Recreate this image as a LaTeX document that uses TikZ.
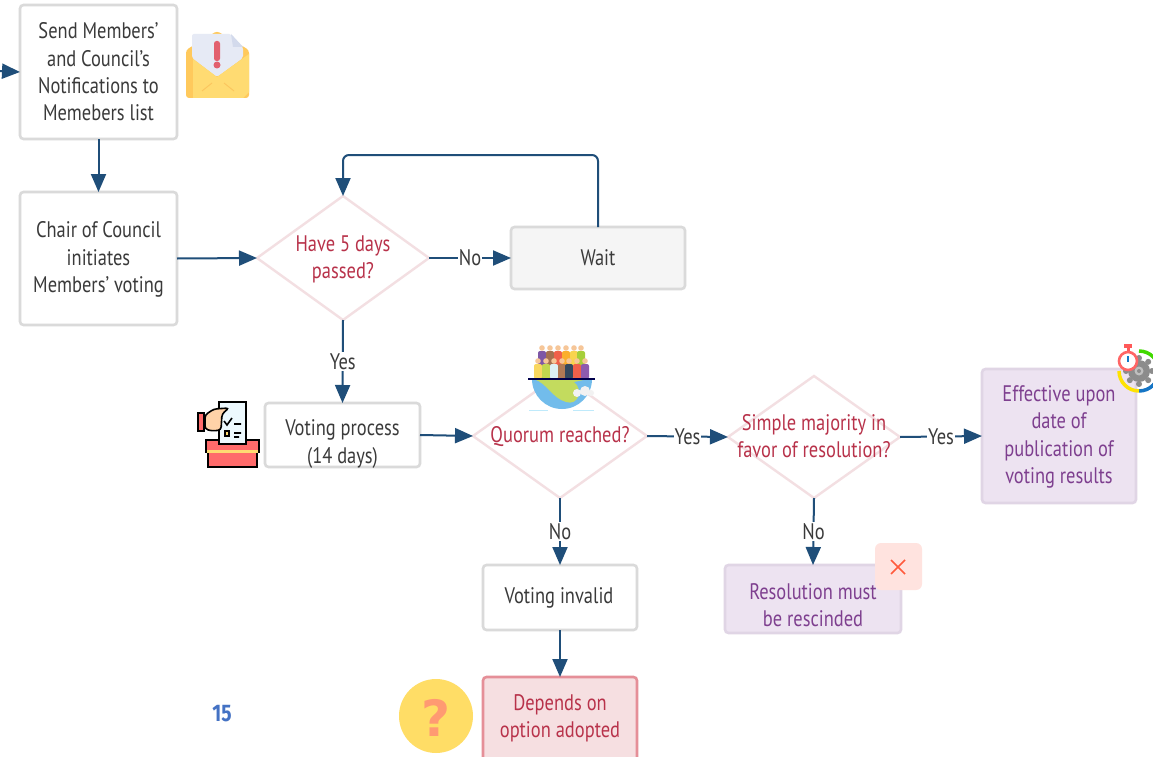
\documentclass[tikz,border=0pt]{standalone}
\usepackage{fontspec}
\setmainfont{PT Sans}[FakeStretch=0.82]
\newfontfamily\numfont{Fira Sans}[FakeStretch=0.8]
\newfontfamily\qfont{DejaVu Sans}
\usetikzlibrary{shapes.geometric,arrows.meta}
\definecolor{conn}{HTML}{1F4E79}
\definecolor{edgegray}{HTML}{DADADA}
\definecolor{txt}{HTML}{3A3A3A}
\definecolor{redtxt}{HTML}{B8324A}
\definecolor{purptxt}{HTML}{7E3F8F}
\definecolor{purpfill}{HTML}{EDE3F1}
\definecolor{purpedge}{HTML}{E0D5E5}
\definecolor{redfill}{HTML}{F6DFE1}
\definecolor{rededge}{HTML}{E58F98}
\definecolor{diaedge}{HTML}{F3DFE2}
\definecolor{envback}{HTML}{FFC95C}
\definecolor{envfront}{HTML}{FFDB72}
\definecolor{envline}{HTML}{FBC65E}
\definecolor{paper}{HTML}{E6EAF5}
\definecolor{paperfold}{HTML}{D3DAEC}
\definecolor{alert}{HTML}{E2606E}
\definecolor{qyellow}{HTML}{FFDD66}
\definecolor{qmark}{HTML}{FF9A72}
\definecolor{pagenum}{HTML}{4472C4}
\definecolor{ballot}{HTML}{FF6B6B}
\definecolor{skin}{HTML}{FFD2A8}
\definecolor{sea}{HTML}{72BCEB}
\definecolor{land}{HTML}{C3DB5E}
\definecolor{tile}{HTML}{FFE3DF}
\definecolor{cross}{HTML}{FF5A3C}
\tikzset{
  x=1pt,y=-1pt,
  every node/.append style={outer sep=0pt},
  boxbase/.style={rectangle,rounded corners=3.5pt,line width=2.6pt,inner sep=0pt},
  plainbox/.style={boxbase,draw=edgegray,fill=white},
  waitbox/.style={boxbase,draw=edgegray,fill=black!4},
  purpbox/.style={boxbase,draw=purpedge,fill=purpfill},
  redbox/.style={boxbase,draw=rededge,fill=redfill},
  decision/.style={diamond,draw=diaedge,line width=2.4pt,fill=white,inner sep=0pt},
  boxtext/.style={align=center,inner sep=0pt,font=\fontsize{22.5}{27.3}\selectfont},
  darktext/.style={boxtext,text=txt},
  redtext/.style={boxtext,text=redtxt},
  purptext/.style={boxtext,text=purptxt},
  link/.style={draw=conn,line width=2pt,-{Triangle[length=18pt,width=15pt]}},
  edgelabel/.style={fill=white,text=txt,inner sep=1pt,font=\fontsize{22.5}{24}\selectfont}
}
\begin{document}
\begin{tikzpicture}
\useasboundingbox (0,0) rectangle (1153,757);
\fill[white] (0,0) rectangle (1153,757);

% shapes
\node[plainbox,minimum width=157pt,minimum height=134pt] (send) at (98.5,72) {};
\node[plainbox,minimum width=157pt,minimum height=133pt] (chair) at (98.5,258.5) {};
\node[decision,minimum width=172pt,minimum height=124pt] (d1) at (343,258) {};
\node[waitbox,minimum width=174pt,minimum height=62pt] (wait) at (598,258) {};
\node[plainbox,minimum width=155pt,minimum height=64pt] (vote) at (342.5,435) {};
\node[decision,minimum width=174pt,minimum height=124pt] (d2) at (560,436) {};
\node[decision,minimum width=172pt,minimum height=122pt] (d3) at (814,437) {};
\node[purpbox,minimum width=154pt,minimum height=134pt] (eff) at (1059,436) {};
\node[plainbox,minimum width=154pt,minimum height=65pt] (inv) at (560,597.5) {};
\node[redbox,minimum width=154pt,minimum height=84pt] (dep) at (560,719) {};
\node[purpbox,minimum width=176pt,minimum height=68pt] (res) at (813,599) {};
\coordinate (in) at (-2,71);
\coordinate (corner) at (343,155);

% texts
\node[darktext] (sendt) at (98.5,72) {Send Members'\\and Council's\\Notifications to\\Memebers list};
\node[darktext] (chairt) at (98.5,259.5) {Chair of Council\\initiates\\Members' voting};
\node[redtext] (d1t) at (343,259.5) {Have 5 days\\passed?};
\node[darktext] (waitt) at (598,258) {Wait};
\node[darktext] (votet) at (342.5,444) {Voting process\\(14 days)};
\node[redtext] (d2t) at (560,437) {Quorum reached?};
\node[redtext] (d3t) at (814,436) {Simple majority in\\favor of resolution?};
\node[purptext] (efft) at (1059,437) {Effective upon\\date of\\publication of\\voting results};
\node[darktext] (invt) at (559,598) {Voting invalid};
\node[redtext] (dept) at (560,718) {Depends on\\option adopted};
\node[purptext] (rest) at (813,605) {Resolution must\\be rescinded};

% connectors
\draw[link] (in) -- (send.west);
\draw[link] (send.south) -- (chair.north);
\draw[link] (chair.east) -- (d1.west);
\draw[link] (d1.east) -- node[edgelabel] (l1) {No} (wait.west);
\draw[link,rounded corners=6pt] (wait.north) |- (corner) -- (d1.north);
\draw[link] (d1.south) -- node[edgelabel] (l2) {Yes} (vote.north);
\draw[link] (vote.east) -- (d2.west);
\draw[link] (d2.east) -- node[edgelabel] (l3) {Yes} (d3.west);
\draw[link] (d3.east) -- node[edgelabel] (l4) {Yes} (eff.west);
\draw[link] (d2.south) -- node[edgelabel] (l5) {No} (inv.north);
\draw[link] (d3.south) -- node[edgelabel] (l6) {No} (res.north);
\draw[link] (inv.south) -- (dep.north);

% envelope icon
\fill[envback,rounded corners=3pt] (186,50) -- (217,31) -- (249,50) -- (249,98) -- (186,98) -- cycle;
\fill[paper,rounded corners=2pt] (192,34) -- (231,34) -- (243,47) -- (243,58) -- (217,77) -- (192,58) -- cycle;
\fill[paperfold] (231,34) -- (243,47) -- (233,47) -- cycle;
\fill[envfront] (193,59) -- (217,77) -- (249,54) -- (249,92) -- (243,98) -- (193,98) -- cycle;
\draw[envline,line width=1pt] (202,91) -- (212,83) (234,91) -- (224,83);
\fill[alert,rounded corners=2.5pt] (214,41) rectangle (220,61);
\fill[alert] (217,65) circle (3.5pt);

% ballot icon
\draw[black,line width=2pt,fill=ballot] (208,448) rectangle (257,467);
\draw[black,line width=2pt,fill=ballot] (206,440) rectangle (259,452);
\fill[envfront] (207,450) rectangle (258,453);
\draw[black,line width=2pt,fill=cyan!7!white] (219,402) rectangle (246,444);
\draw[black,line width=1.6pt] (224,421) -- (227,425) -- (232,418) (234,424) -- (241,424) (234,433) -- (241,433) (234,437) -- (239,437);
\draw[black,line width=1.4pt,fill=envfront] (225,431) rectangle (229,436);
\draw[black,line width=1.6pt,fill=skin,rounded corners=3pt] (205,415) -- (214,409) -- (229,408) -- (222,414) -- (221,430) -- (212,431) -- (205,429) -- cycle;
\draw[black,line width=1.6pt,fill=ballot] (198,413) rectangle (204,431);

% globe and people icon
\begin{scope}
\clip (525,379) rectangle (600,412);
\fill[sea] (562,379) circle (30pt);
\fill[land] (534,379) .. controls (548,384) and (552,398) .. (566,402) .. controls (578,406) and (584,390) .. (574,382) -- (588,379) -- cycle;
\end{scope}
\fill[black!5!white] (577,393) circle (4pt) (585,391) circle (5pt) (591,393) circle (3pt);
\draw[cyan!25!white,line width=1pt] (529,410) -- (548,410) (573,410) -- (594,410);
\foreach \x/\c in {542/7E57A6,550/A5704F,558/F0604A,566/FBAE2C,574/F9D44F,581/A6CE39} {
  \definecolor{pc}{HTML}{\c}
  \fill[pc,rounded corners=2pt] (\x-4,351) rectangle (\x+4,379);
  \fill[skin!85!brown] (\x,348) circle (2.8pt);
}
\foreach \x/\c in {538/F9D75F,546/C2D84E,554/DDF1F5,562/B07A55,569/34495E,577/F1604A,585/8E5BAE} {
  \definecolor{pc}{HTML}{\c}
  \fill[pc,rounded corners=2pt] (\x-4,364) rectangle (\x+4,379);
  \fill[skin!85!brown] (\x,361) circle (2.8pt);
}
\draw[black!70!blue,line width=1.6pt] (528,379) -- (595,379);

% stopwatch and gear icon
\begin{scope}
\clip (1100,340) rectangle (1153,400);
\draw[green!70!yellow!85!black,line width=3.5pt] (1139,351) arc[start angle=90,end angle=0,radius=20pt];
\draw[cyan!55!blue,line width=3.5pt] (1159,371) arc[start angle=0,end angle=-90,radius=20pt];
\draw[yellow!85!orange,line width=3.5pt] (1139,391) arc[start angle=-90,end angle=-180,radius=20pt];
\foreach \a in {0,45,...,315} \fill[black!45!white] (1139,371) ++(\a:13) circle (3pt);
\fill[black!45!white] (1139,371) circle (11pt);
\fill[black!25!white] (1139,371) circle (4.5pt);
\fill[black!45!white] (1139,371) circle (2pt);
\end{scope}
\fill[red!65!white] (1124,344) rectangle (1132,348);
\fill[red!65!white] (1126.5,347) rectangle (1129.5,352);
\draw[red!60!white,line width=2.6pt,fill=white] (1128,361) circle (9pt);
\draw[cyan!60!blue,line width=1.2pt] (1128,356) -- (1128,362);

% red cross tile
\fill[tile,rounded corners=6pt] (875,543) rectangle (922,590);
\draw[cross,line width=1.5pt] (891,560) -- (905,574) (905,560) -- (891,574);

% question icon
\fill[qyellow] (436,716) circle (37pt);
\node[text=qmark,font=\qfont\bfseries\fontsize{50}{50}\selectfont] (qm) at (436,717.5) {?};

% page number
\node[text=pagenum,font=\numfont\bfseries\fontsize{24}{24}\selectfont] (pn) at (222,714) {15};
\end{tikzpicture}
\end{document}
